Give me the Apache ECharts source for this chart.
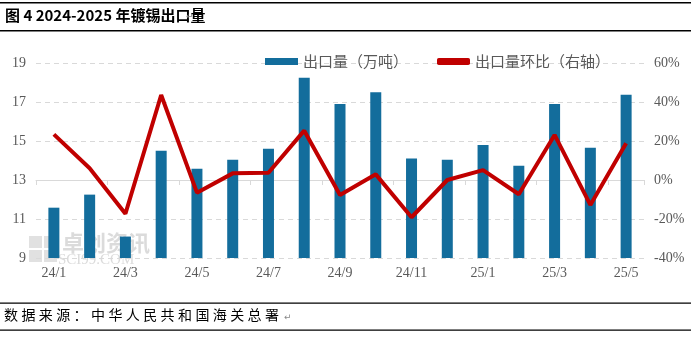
<!DOCTYPE html>
<html><head><meta charset="utf-8">
<script src="https://cdn.jsdelivr.net/npm/echarts@6/dist/echarts.min.js"></script>
<style>html,body{margin:0;padding:0;background:#fff}#c{width:691px;height:337px}</style>
</head><body><div id="c"></div>
<script>
const categories = ['24/1','24/2','24/3','24/4','24/5','24/6','24/7','24/8','24/9','24/10','24/11','24/12','25/1','25/2','25/3','25/4','25/5'];
const exportVolume = [11.58, 12.25, 10.1, 14.5, 13.58, 14.04, 14.6, 18.25, 16.9, 17.5, 14.1, 14.04, 14.8, 13.73, 16.9, 14.66, 17.37];
const momChange = [23.4, 6.0, -17.3, 43.6, -6.5, 3.4, 3.7, 25.3, -7.7, 2.9, -19.1, 0.0, 5.1, -7.3, 23.1, -12.8, 18.8];
const leftTicks = [9, 11, 13, 15, 17, 19];
const rightTicks = [-40, -20, 0, 20, 40, 60];
const sourceText = '数据来源：中华人民共和国海关总署';

const numFont = '"Liberation Serif","DejaVu Serif",serif';
const cjk = '"Noto Sans CJK SC",sans-serif';
const chart = echarts.init(document.getElementById('c'));

const graphics = [
  {type: 'rect', left: 0, top: 2, shape: {width: 691, height: 1.5}, style: {fill: '#000'}},
  {type: 'rect', left: 0, top: 30, shape: {width: 691, height: 1.5}, style: {fill: '#000'}},
  {type: 'text', left: 5, top: 8, style: {text: '图 4 2024-2025 年镀锡出口量', fill: '#000', font: 'bold 15px "Noto Sans CJK SC"'}},
  {type: 'text', left: 186, top: 12, style: {text: '↵', fill: '#888', font: '9px "DejaVu Sans"'}},
  {type: 'rect', left: 0, top: 302.5, shape: {width: 691, height: 1.2}, style: {fill: '#000'}},
  {type: 'rect', left: 0, top: 329.5, shape: {width: 691, height: 1.2}, style: {fill: '#000'}},
  {type: 'text', left: 284, top: 313, style: {text: '↵', fill: '#888', font: '9px "DejaVu Sans"'}},
  // watermark
  {type: 'rect', z: 0, left: 29, top: 236, shape: {width: 13, height: 12}, style: {fill: 'rgba(200,200,200,0.55)'}},
  {type: 'rect', z: 0, left: 44, top: 236, shape: {width: 13, height: 12}, style: {fill: 'rgba(200,200,200,0.55)'}},
  {type: 'rect', z: 0, left: 29, top: 250, shape: {width: 13, height: 12}, style: {fill: 'rgba(200,200,200,0.55)'}},
  {type: 'rect', z: 0, left: 44, top: 250, shape: {width: 13, height: 12}, style: {fill: 'rgba(200,200,200,0.55)'}},
  {type: 'text', z: 0, left: 62, top: 232, style: {text: '卓创资讯', fill: 'rgba(190,190,190,0.55)', font: 'bold 22px "Noto Sans CJK SC"'}},
  {type: 'text', z: 0, left: 58, top: 253, style: {text: 'SCI99.COM', fill: 'rgba(190,190,190,0.55)', font: '15px "Liberation Serif"'}}
];
for (let i = 0; i < sourceText.length; i++) {
  graphics.push({type: 'text', left: 4 + i * 17.4, top: 308,
    style: {text: sourceText[i], fill: '#000', font: '14px "Noto Sans CJK SC"'}});
}

chart.setOption({
  animation: false,
  grid: {left: 36, right: 47, top: 63, bottom: 79},
  legend: {
    top: 54, left: 265, padding: 0, itemGap: 29, itemWidth: 33, itemHeight: 7,
    textStyle: {color: '#595959', fontSize: 15, fontFamily: cjk},
    data: [
      {name: '出口量（万吨）', icon: 'rect'},
      {name: '出口量环比（右轴）', icon: 'roundRect', itemStyle: {color: '#C00000'}}
    ]
  },
  graphic: graphics,
  xAxis: {
    type: 'category', data: categories, boundaryGap: true,
    axisLine: {lineStyle: {color: '#d9d9d9'}},
    axisTick: {show: true, interval: 1, length: 5, lineStyle: {color: '#d9d9d9'}},
    axisLabel: {interval: 1, color: '#595959', fontSize: 14, fontFamily: numFont, margin: 8}
  },
  yAxis: [
    {type: 'value', min: leftTicks[0], max: leftTicks[leftTicks.length-1], interval: 2,
     axisLine: {show: false}, axisTick: {show: false},
     axisLabel: {color: '#595959', fontSize: 14, fontFamily: numFont, margin: 10},
     splitLine: {lineStyle: {color: '#d9d9d9', type: [5, 4]}}},
    {type: 'value', min: rightTicks[0] / 100, max: rightTicks[rightTicks.length-1] / 100, interval: 0.2,
     axisLine: {show: false}, axisTick: {show: false},
     axisLabel: {color: '#595959', fontSize: 14, fontFamily: numFont, margin: 10,
       formatter: v => Math.round(v * 100) + '%'},
     splitLine: {show: false}}
  ],
  series: [
    {name: '出口量（万吨）', type: 'bar', data: exportVolume, barWidth: 11,
     itemStyle: {color: '#136D9C'}},
    {name: '出口量环比（右轴）', type: 'line', yAxisIndex: 1, data: momChange.map(v => v / 100),
     symbol: 'none', lineStyle: {color: '#C00000', width: 4}, itemStyle: {color: '#C00000'}}
  ]
});
</script></body></html>
